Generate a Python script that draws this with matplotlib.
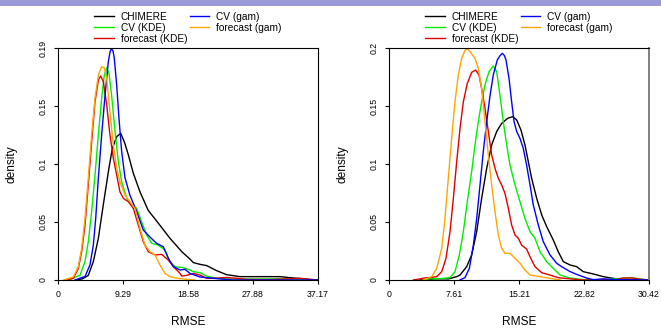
"""RMSE density curves: CHIMERE vs CV / forecast (KDE and gam), two panels."""

import matplotlib

matplotlib.use("Agg")
import matplotlib.pyplot as plt
from matplotlib.patches import Rectangle

plt.rcParams["font.family"] = ["Liberation Sans", "DejaVu Sans"]

labels = ["CHIMERE", "CV (KDE)", "forecast (KDE)", "CV (gam)", "forecast (gam)"]
colors = ["black", "#00ee00", "#e00000", "#0000ff", "#ffa500"]

# ---- left panel -------------------------------------------------------------
left_xticks = [0, 9.29, 18.58, 27.88, 37.17]
left_xticklabels = ["0", "9.29", "18.58", "27.88", "37.17"]
left_yticks = [0, 0.05, 0.1, 0.15, 0.2]
left_yticklabels = ["0", "0.05", "0.1", "0.15", "0.19"]

left_chimere_x = [2.5, 3.5, 4.33, 5.05, 5.77, 6.48, 7.19, 7.77, 8.39, 8.96, 9.49, 10.05,
                  10.77, 11.72, 12.9, 14.34, 16.0, 17.7, 18.87, 19.35, 20.3, 21.26, 22.7,
                  24.1, 26.0, 28.9, 31.7, 33.2, 35.0, 37.17]
left_chimere_y = [0, 0.001, 0.004, 0.0158, 0.036, 0.065, 0.093, 0.1135, 0.1236, 0.1264,
                  0.119, 0.108, 0.092, 0.076, 0.060, 0.049, 0.036, 0.0244, 0.018, 0.015,
                  0.0135, 0.0124, 0.008, 0.0046, 0.0029, 0.0029, 0.0029, 0.002, 0.001, 0.0]

left_cvkde_x = [1.5, 3.15, 3.86, 4.33, 4.81, 5.29, 5.77, 6.24, 6.62, 6.96, 7.29, 7.67, 8.15,
                8.63, 9.1, 9.82, 10.53, 11.25, 11.96, 12.68, 13.4, 14.34, 15.3, 16.0, 16.73,
                17.9, 18.87, 19.35, 20.3, 21.26, 22.7, 25.0, 32.2, 37.17]
left_cvkde_y = [0, 0.004, 0.016, 0.033, 0.059, 0.0905, 0.125, 0.1566, 0.1767, 0.183, 0.178,
                0.159, 0.128, 0.102, 0.0848, 0.0704, 0.0647, 0.0618, 0.050, 0.0388, 0.0316,
                0.030, 0.0259, 0.0158, 0.0115, 0.0106, 0.0086, 0.0072, 0.0063, 0.0034,
                0.0014, 0.0008, 0.001, 0.0]

left_fckde_x = [1.0, 2.19, 2.91, 3.38, 3.86, 4.33, 4.81, 5.29, 5.77, 6.1, 6.48, 6.96, 7.43,
                7.91, 8.39, 8.86, 9.34, 10.05, 10.77, 11.48, 12.2, 12.9, 13.87, 14.82, 15.77,
                16.5, 17.44, 17.68, 18.4, 19.35, 20.3, 21.26, 22.5, 24.0, 25.5, 27.0, 30.0,
                33.0, 34.6, 36.0, 37.17]
left_fckde_y = [0, 0.0014, 0.010, 0.0244, 0.0474, 0.082, 0.119, 0.1537, 0.1724, 0.1759,
                0.171, 0.151, 0.125, 0.105, 0.0905, 0.076, 0.0704, 0.0675, 0.0618, 0.0474,
                0.033, 0.0244, 0.0216, 0.0221, 0.0172, 0.0115, 0.0057, 0.0034, 0.004, 0.0057,
                0.0043, 0.0014, 0.0015, 0.0022, 0.0015, 0.0005, 0.0003, 0.001, 0.0015,
                0.0005, 0.0]

left_cvgam_x = [2.43, 3.86, 4.57, 5.05, 5.39, 5.77, 6.24, 6.72, 7.19, 7.45, 7.67, 7.88, 8.05,
                8.39, 8.72, 9.10, 9.58, 10.29, 11.25, 12.2, 13.15, 14.1, 15.05, 15.77, 16.5,
                17.44, 18.15, 18.87, 20.3, 22.7, 25.0, 30.0, 37.17]
left_cvgam_y = [0, 0.003, 0.013, 0.030, 0.053, 0.088, 0.125, 0.159, 0.188, 0.197, 0.1997,
                0.197, 0.191, 0.168, 0.139, 0.111, 0.088, 0.073, 0.059, 0.043, 0.037, 0.0316,
                0.0287, 0.0187, 0.0115, 0.0086, 0.0092, 0.0057, 0.0026, 0.0012, 0.0, 0.0,
                0.0]

left_fcgam_x = [0.8, 2.19, 2.91, 3.38, 3.86, 4.33, 4.81, 5.29, 5.77, 6.24, 6.62, 6.96, 7.43,
                7.91, 8.39, 8.86, 9.58, 10.29, 11.0, 11.72, 12.44, 13.15, 13.87, 14.58, 15.3,
                16.0, 17.2, 18.4, 19.5]
left_fcgam_y = [0, 0.0026, 0.0115, 0.0273, 0.053, 0.0877, 0.125, 0.1566, 0.1767, 0.1839,
                0.183, 0.1739, 0.145, 0.1164, 0.0963, 0.0848, 0.0733, 0.0675, 0.0618, 0.0445,
                0.030, 0.0244, 0.0216, 0.0129, 0.0057, 0.0029, 0.0014, 0.0006, 0.0]

# ---- right panel ------------------------------------------------------------
right_xticks = [0, 7.61, 15.21, 22.82, 30.42]
right_xticklabels = ["0", "7.61", "15.21", "22.82", "30.42"]
right_yticks = [0, 0.05, 0.1, 0.15, 0.2]
right_yticklabels = ["0", "0.05", "0.1", "0.15", "0.2"]

right_chimere_x = [3.6, 5.5, 7.0, 7.92, 8.31, 9.09, 9.67, 10.26, 10.84, 11.43, 12.01, 12.6,
                   13.18, 13.89, 14.47, 14.94, 15.44, 15.91, 16.3, 16.69, 17.28, 17.87, 18.45,
                   19.22, 19.8, 20.4, 21.2, 21.96, 22.73, 23.9, 25.07, 26.24, 27.4, 30.42]
right_chimere_y = [0, 0.001, 0.001, 0.0029, 0.0043, 0.0115, 0.0216, 0.0417, 0.0704, 0.0963,
                   0.1164, 0.128, 0.135, 0.1394, 0.1408, 0.138, 0.1293, 0.1164, 0.102, 0.0877,
                   0.0704, 0.056, 0.046, 0.0345, 0.0244, 0.0158, 0.0129, 0.0115, 0.0072,
                   0.0052, 0.0029, 0.0014, 0.0003, 0.0]

right_cvkde_x = [4.0, 4.8, 6.0, 7.14, 7.72, 8.23, 8.7, 9.16, 9.67, 10.06, 10.45, 10.84, 11.23,
                 11.7, 12.2, 12.6, 12.99, 13.37, 13.77, 14.16, 14.74, 15.33, 15.91, 16.5,
                 17.08, 17.67, 18.45, 19.22, 20.0, 21.2, 22.7, 25.0, 27.5, 28.2, 28.8, 30.42]
right_cvkde_y = [0, 0.001, 0.0012, 0.002, 0.0072, 0.0216, 0.0417, 0.0675, 0.0934, 0.1164,
                 0.1365, 0.1537, 0.168, 0.1796, 0.1845, 0.1796, 0.159, 0.1365, 0.1164, 0.099,
                 0.082, 0.0675, 0.053, 0.0417, 0.036, 0.0244, 0.0158, 0.010, 0.0044, 0.0017,
                 0.0003, 0.0003, 0.0015, 0.002, 0.0015, 0.0]

right_fckde_x = [2.85, 4.4, 4.8, 5.58, 6.17, 6.67, 7.14, 7.53, 7.92, 8.31, 8.7, 9.16, 9.67,
                 10.14, 10.53, 10.84, 11.23, 11.62, 12.01, 12.4, 12.79, 13.18, 13.57, 13.96,
                 14.35, 14.74, 15.13, 15.52, 16.1, 16.5, 17.08, 17.87, 18.84, 19.8, 21.2,
                 22.7, 26.5, 27.4, 28.5, 29.5, 30.42]
right_fckde_y = [0, 0.002, 0.002, 0.0029, 0.0072, 0.0187, 0.0417, 0.0704, 0.102, 0.1307,
                 0.1537, 0.1695, 0.179, 0.181, 0.1767, 0.165, 0.148, 0.128, 0.108, 0.0963,
                 0.0877, 0.082, 0.0747, 0.0618, 0.0474, 0.0388, 0.036, 0.030, 0.0267, 0.020,
                 0.0115, 0.0063, 0.0043, 0.002, 0.001, 0.0, 0.0003, 0.0017, 0.0017, 0.0005,
                 0.0]

right_cvgam_x = [8.3, 8.89, 9.4, 9.87, 10.26, 10.65, 11.03, 11.43, 11.82, 12.2, 12.67, 13.0,
                 13.26, 13.5, 13.69, 14.04, 14.35, 14.63, 14.94, 15.33, 15.71, 16.1, 16.5,
                 16.88, 17.47, 18.05, 18.84, 19.62, 20.2, 21.2, 22.15, 23.13, 23.9, 25.07,
                 26.6, 30.42]
right_cvgam_y = [0, 0.002, 0.010, 0.030, 0.053, 0.082, 0.1106, 0.1365, 0.159, 0.1767, 0.1897,
                 0.1935, 0.1954, 0.1935, 0.1897, 0.1739, 0.1537, 0.1365, 0.128, 0.122,
                 0.1135, 0.099, 0.082, 0.0647, 0.0474, 0.033, 0.0216, 0.0144, 0.0115, 0.0072,
                 0.0043, 0.0017, 0.0003, 0.001, 0.0003, 0.0]

right_fcgam_x = [4.0, 5.0, 5.58, 6.17, 6.55, 6.94, 7.33, 7.72, 8.11, 8.5, 8.89, 9.16, 9.48,
                 10.06, 10.45, 10.84, 11.23, 11.62, 12.01, 12.4, 12.79, 13.18, 13.57, 14.16,
                 14.74, 15.33, 15.91, 16.5, 17.67, 19.2, 20.0]
right_fcgam_y = [0, 0.0029, 0.010, 0.0273, 0.053, 0.0877, 0.122, 0.1537, 0.1767, 0.191,
                 0.198, 0.1997, 0.197, 0.191, 0.1825, 0.165, 0.1365, 0.108, 0.082, 0.059,
                 0.0388, 0.0273, 0.023, 0.023, 0.0187, 0.0144, 0.0086, 0.0043, 0.0029, 0.001,
                 0.0]


def draw_panel(ax, curves, xticks, xticklabels, yticks, yticklabels):
    """Draw one density panel in the R base-graphics look."""
    for (xs, ys), label, color in zip(curves, labels, colors):
        ax.plot(xs, ys, color=color, linewidth=1.0, label=label)

    ax.set_xlim(xticks[0], xticks[-1])
    ax.set_ylim(yticks[0], yticks[-1])
    ax.set_xticks(xticks, xticklabels)
    ax.set_yticks(yticks, yticklabels)
    ax.tick_params(direction="out", length=3, width=0.8, labelsize=6.3, pad=4.5)
    for lab in ax.get_yticklabels():
        lab.set_rotation(90)
        lab.set_verticalalignment("center")
    for spine in ax.spines.values():
        spine.set_linewidth(0.8)

    ax.set_xlabel("RMSE", fontsize=8.6)
    ax.set_ylabel("density", fontsize=8.6)
    ax.xaxis.set_label_coords(0.5, -0.155)
    ax.yaxis.set_label_coords(-0.155, 0.5)

    ax.legend(loc="lower center", bbox_to_anchor=(0.5, 1.0), ncol=2, frameon=False,
              fontsize=7.3, handlelength=1.9, handletextpad=0.7, columnspacing=0.25,
              labelspacing=0.1, borderaxespad=0.2, borderpad=0.2)


fig = plt.figure(figsize=(6.61, 3.28), dpi=100)
fig.patches.append(Rectangle((0, 1 - 6 / 328), 1, 6 / 328, transform=fig.transFigure,
                             facecolor="#9999d9", edgecolor="none"))

ax_left = fig.add_axes([58 / 661, 48 / 328, 260 / 661, 232 / 328])
ax_right = fig.add_axes([389 / 661, 48 / 328, 260 / 661, 232 / 328])

draw_panel(
    ax_left,
    [(left_chimere_x, left_chimere_y), (left_cvkde_x, left_cvkde_y),
     (left_fckde_x, left_fckde_y), (left_cvgam_x, left_cvgam_y),
     (left_fcgam_x, left_fcgam_y)],
    left_xticks, left_xticklabels, left_yticks, left_yticklabels,
)
draw_panel(
    ax_right,
    [(right_chimere_x, right_chimere_y), (right_cvkde_x, right_cvkde_y),
     (right_fckde_x, right_fckde_y), (right_cvgam_x, right_cvgam_y),
     (right_fcgam_x, right_fcgam_y)],
    right_xticks, right_xticklabels, right_yticks, right_yticklabels,
)
ax_right.spines["right"].set_color("#808080")
ax_right.spines["right"].set_linewidth(1.4)

fig.savefig("out.png", dpi=100)
plt.close(fig)
